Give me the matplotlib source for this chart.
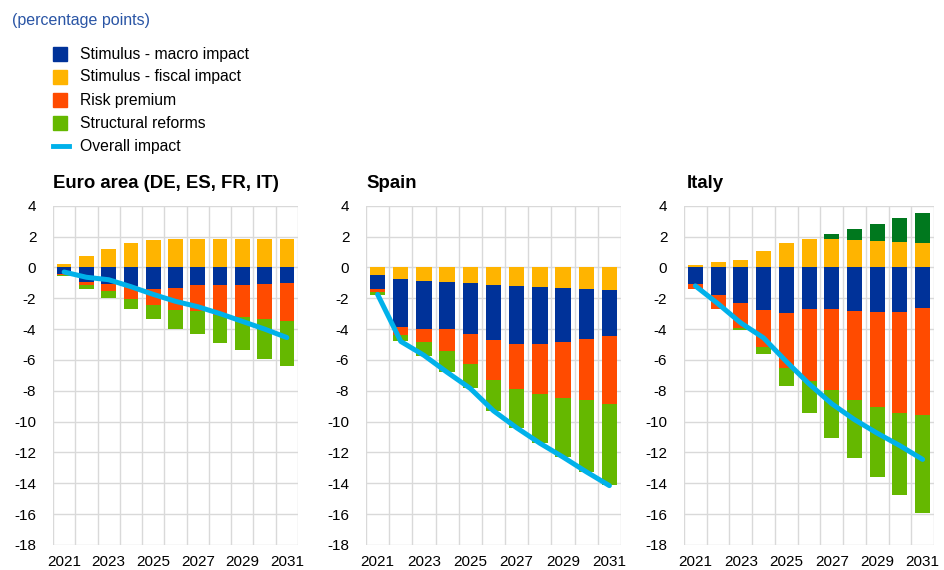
import matplotlib
matplotlib.use("Agg")
import matplotlib.pyplot as plt
from matplotlib.patches import Rectangle
from matplotlib.lines import Line2D
import numpy as np

plt.rcParams['font.family'] = ['Liberation Sans', 'DejaVu Sans']
plt.rcParams['axes.unicode_minus'] = False

years = [2021, 2022, 2023, 2024, 2025, 2026, 2027, 2028, 2029, 2030, 2031]
tick_years = [2021, 2023, 2025, 2027, 2029, 2031]

series_names = ["Stimulus - macro impact", "Stimulus - fiscal impact", "Risk premium",
                "Structural reforms", "Overall impact"]

# Euro area (DE, ES, FR, IT)
ea_fiscal = [0.25, 0.76, 1.19, 1.55, 1.75, 1.86, 1.86, 1.86, 1.86, 1.86, 1.86]
ea_macro = [-0.40, -0.93, -1.05, -1.20, -1.38, -1.34, -1.12, -1.12, -1.12, -1.08, -1.02]
ea_risk = [-0.10, -0.22, -0.45, -0.85, -1.08, -1.45, -1.71, -1.95, -2.08, -2.29, -2.46]
ea_struct = [-0.08, -0.25, -0.46, -0.65, -0.91, -1.21, -1.49, -1.81, -2.18, -2.55, -2.91]
ea_struct_pos = [0, 0, 0, 0, 0, 0, 0, 0, 0, 0, 0]
ea_overall = [-0.30, -0.64, -0.80, -1.25, -1.75, -2.20, -2.55, -3.00, -3.50, -4.00, -4.55]

# Spain
es_fiscal = [-0.49, -0.77, -0.88, -0.94, -1.01, -1.12, -1.18, -1.27, -1.31, -1.39, -1.46]
es_macro = [-0.93, -3.11, -3.09, -3.05, -3.30, -3.58, -3.78, -3.69, -3.52, -3.27, -3.02]
es_risk = [-0.15, -0.48, -0.86, -1.46, -1.96, -2.57, -2.92, -3.24, -3.62, -3.97, -4.40]
es_struct = [-0.21, -0.43, -0.90, -1.33, -1.56, -2.04, -2.51, -3.19, -3.87, -4.63, -5.24]
es_struct_pos = [0, 0, 0, 0, 0, 0, 0, 0, 0, 0, 0]
es_overall = [-1.75, -4.80, -5.70, -6.80, -7.85, -9.30, -10.40, -11.40, -12.30, -13.25, -14.15]

# Italy
it_fiscal = [0.17, 0.32, 0.45, 1.07, 1.57, 1.87, 1.82, 1.76, 1.72, 1.67, 1.61]
it_macro = [-1.09, -1.82, -2.34, -2.79, -2.94, -2.70, -2.70, -2.85, -2.92, -2.92, -2.66]
it_risk = [-0.28, -0.86, -1.56, -2.40, -3.58, -4.68, -5.28, -5.73, -6.11, -6.52, -6.93]
it_struct = [0, 0, -0.16, -0.45, -1.16, -2.04, -3.05, -3.80, -4.55, -5.30, -6.35]
it_struct_pos = [0, 0, 0, 0, 0, 0, 0.37, 0.75, 1.11, 1.51, 1.91]
it_overall = [-1.20, -2.36, -3.60, -4.57, -6.10, -7.55, -8.84, -9.87, -10.75, -11.56, -12.45]

titles = ["Euro area (DE, ES, FR, IT)", "Spain", "Italy"]

C_MACRO = "#003299"
C_FISCAL = "#FFB400"
C_RISK = "#FF4B00"
C_STRUCT = "#65B800"
C_STRUCT_POS = "#00781E"
C_LINE = "#00B1EA"
C_GRID = "#D9D9D9"

W, H = 944, 570
fig = plt.figure(figsize=(W / 100, H / 100), dpi=100)

panels = [
    (ea_fiscal, ea_macro, ea_risk, ea_struct, ea_struct_pos, ea_overall),
    (es_fiscal, es_macro, es_risk, es_struct, es_struct_pos, es_overall),
    (it_fiscal, it_macro, it_risk, it_struct, it_struct_pos, it_overall),
]
lefts_px = [53, 366, 684]
rights_px = [298, 621, 934]
title_x_px = [53, 366, 687]
top_px, bot_px = 205.7, 545

for i, (fis, mac, rsk, stc, stcp, ovr) in enumerate(panels):
    l, r = lefts_px[i], rights_px[i]
    ax = fig.add_axes([l / W, 1 - bot_px / H, (r - l) / W, (bot_px - top_px) / H])
    x = np.arange(len(years))
    pos_base = np.zeros(len(years))
    neg_base = np.zeros(len(years))
    for vals, col in [(fis, C_FISCAL), (mac, C_MACRO), (rsk, C_RISK), (stc, C_STRUCT), (stcp, C_STRUCT_POS)]:
        v = np.array(vals, dtype=float)
        bottoms = np.where(v >= 0, pos_base, neg_base)
        ax.bar(x, v, bottom=bottoms, width=0.66, color=col, edgecolor='none', zorder=2)
        pos_base = pos_base + np.where(v >= 0, v, 0)
        neg_base = neg_base + np.where(v < 0, v, 0)
    ax.plot(x, ovr, color=C_LINE, lw=3.6, solid_capstyle='round', solid_joinstyle='round', zorder=3)

    ax.set_xlim(-0.5, len(years) - 0.5)
    ax.set_ylim(-18, 4)
    ax.set_yticks(np.arange(-18, 5, 2))
    ax.set_xticks([years.index(y) for y in tick_years])
    ax.set_xticklabels([str(y) for y in tick_years])
    ax.set_xticks(np.arange(-0.5, len(years), 1), minor=True)
    ax.grid(True, axis='y', which='major', color=C_GRID, lw=1.0, zorder=0)
    ax.grid(True, axis='x', which='minor', color=C_GRID, lw=1.0, zorder=0)
    ax.grid(False, axis='x', which='major')
    for s in ax.spines.values():
        s.set_visible(False)
    ax.tick_params(axis='both', which='both', length=0, labelsize=11, colors='#000000')
    ax.tick_params(axis='y', pad=12)
    ax.tick_params(axis='x', pad=7)
    ax.set_axisbelow(True)
    fig.text(title_x_px[i] / W, 1 - 183 / H, titles[i], fontsize=13.4, fontweight='bold',
             ha='left', va='center')

# subtitle
fig.text(12 / W, 1 - 21 / H, "(percentage points)", fontsize=11.5, color="#2A55A5",
         ha='left', va='center')

# legend (manual)
leg_y = [54, 77, 100, 123, 146]
leg_cols = [C_MACRO, C_FISCAL, C_RISK, C_STRUCT]
for j, name in enumerate(series_names):
    yc = 1 - leg_y[j] / H
    if j < 4:
        fig.patches.append(Rectangle((53 / W, yc - 7 / H), 14 / W, 14 / H,
                                     transform=fig.transFigure, color=leg_cols[j]))
    else:
        fig.lines.append(Line2D([53 / W, 69 / W], [yc, yc], transform=fig.transFigure,
                                color=C_LINE, lw=3.5))
    fig.text(80 / W, yc, name, fontsize=11.3, ha='left', va='center')

fig.savefig("out.png", dpi=100)
